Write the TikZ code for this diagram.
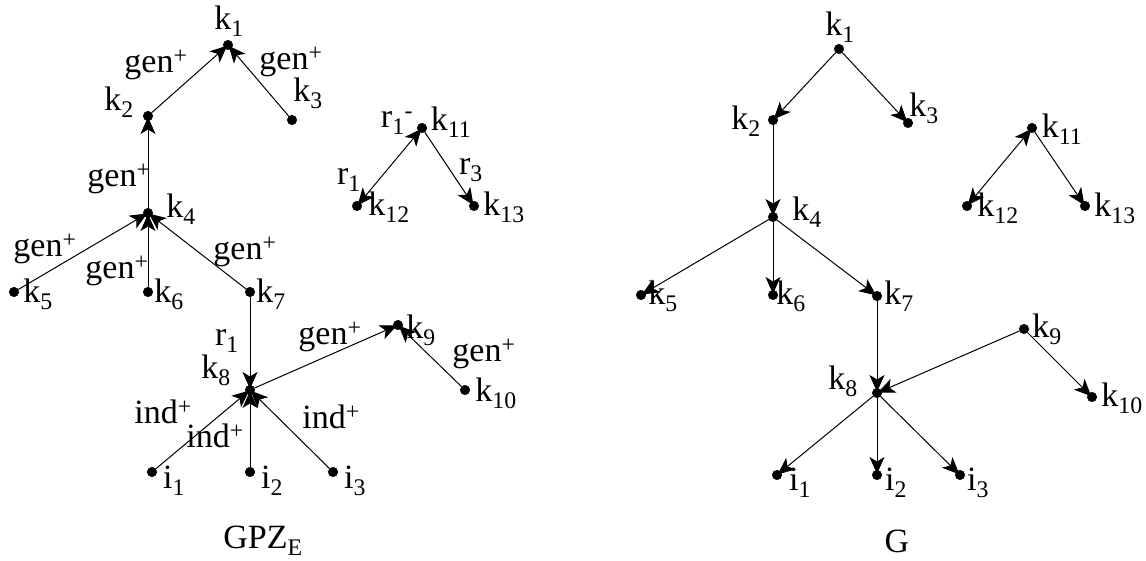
\documentclass[tikz,border=0pt]{standalone}
\usepackage{fontspec}
\setmainfont{Liberation Serif}
\usetikzlibrary{arrows.meta}
\newcommand\kk[1]{k\textsubscript{#1}}
\newcommand\ii[1]{i\textsubscript{#1}}
\newcommand\gp{gen\textsuperscript{+}}
\newcommand\ip{ind\textsuperscript{+}}
\begin{document}
\begin{tikzpicture}[x=1pt,y=-1pt,
  vdot/.style={circle,fill=black,draw=black,line width=0.5pt,inner sep=0pt,minimum size=9.5pt},
  lbl/.style={inner sep=0pt,font=\fontsize{34}{39}\selectfont},
  arr/.style={-{Stealth[length=17pt,width=15pt,inset=4.5pt]},line width=1pt,shorten >=-4pt},
  bi/.style={{Stealth[length=17pt,width=15pt,inset=4.5pt]}-{Stealth[length=17pt,width=15pt,inset=4.5pt]},line width=1pt,shorten >=-4pt,shorten <=-4pt}]
\useasboundingbox (0,0) rectangle (1146,561);
% ---------- left graph: dots ----------
\node[vdot] (L1) at (228,45) {};
\node[vdot] (L2) at (148,116) {};
\node[vdot] (L3) at (292,120) {};
\node[vdot] (L4) at (148,213) {};
\node[vdot] (L5) at (14,292) {};
\node[vdot] (L6) at (148,292) {};
\node[vdot] (L7) at (250,292) {};
\node[vdot] (L8) at (250,390) {};
\node[vdot] (L9) at (398,325) {};
\node[vdot] (L10) at (465,390) {};
\node[vdot] (Li1) at (152,472) {};
\node[vdot] (Li2) at (250,472) {};
\node[vdot] (Li3) at (333,472) {};
\node[vdot] (L11) at (422,128) {};
\node[vdot] (L12) at (357,206) {};
\node[vdot] (L13) at (474,206) {};
% ---------- left graph: labels ----------
\node[lbl] (tL1) at (229,21) {\kk{1}};
\node[lbl] (tL2) at (119,102) {\kk{2}};
\node[lbl] (tL3) at (308,93) {\kk{3}};
\node[lbl] (tL4) at (181,209) {\kk{4}};
\node[lbl] (tL5) at (38,294) {\kk{5}};
\node[lbl] (tL6) at (169,294) {\kk{6}};
\node[lbl] (tL7) at (271,294) {\kk{7}};
\node[lbl] (tL8) at (216,370) {\kk{8}};
\node[lbl] (tL9) at (421,330) {\kk{9}};
\node[lbl] (tL10) at (496,393) {\kk{10}};
\node[lbl] (tLi1) at (174,481) {\ii{1}};
\node[lbl] (tLi2) at (272,481) {\ii{2}};
\node[lbl] (tLi3) at (355,481) {\ii{3}};
\node[lbl] (tL11) at (451,122) {\kk{11}};
\node[lbl] (tL12) at (389,207) {\kk{12}};
\node[lbl] (tL13) at (504,207) {\kk{13}};
\node[lbl] (g12) at (156,65) {\gp};
\node[lbl] (g13) at (291,62) {\gp};
\node[lbl] (g24) at (119,179) {\gp};
\node[lbl] (g45) at (45,249) {\gp};
\node[lbl] (g46) at (117,271) {\gp};
\node[lbl] (g47) at (245,252) {\gp};
\node[lbl] (r78) at (227,341) {r\textsubscript{1}};
\node[lbl] (g89) at (330,337) {\gp};
\node[lbl] (g910) at (484,354) {\gp};
\node[lbl] (i81) at (163,412) {\ip};
\node[lbl] (i82) at (215,436) {\ip};
\node[lbl] (i83) at (331,417) {\ip};
\node[lbl] (r11m) at (397,123) {r\textsubscript{1}\textsuperscript{-}};
\node[lbl] (r1112) at (349,180) {r\textsubscript{1}};
\node[lbl] (r1113) at (471,170) {r\textsubscript{3}};
\node[lbl] (cap1) at (263,541) {GPZ\textsubscript{E}};
% ---------- left graph: edges ----------
\draw[arr] (L2) -- (L1);
\draw[arr] (L3) -- (L1);
\draw[arr] (L4) -- (L2);
\draw[arr] (L5) -- (L4);
\draw[arr] (L6) -- (L4);
\draw[arr] (L7) -- (L4);
\draw[arr] (L7) -- (L8);
\draw[arr] (Li1) -- (L8);
\draw[arr] (Li2) -- (L8);
\draw[arr] (Li3) -- (L8);
\draw[arr] (L8) -- (L9);
\draw[arr] (L10) -- (L9);
\draw[bi] (L12) -- (L11);
\draw[arr] (L11) -- (L13);
% ---------- right graph: dots ----------
\node[vdot] (R1) at (839,49) {};
\node[vdot] (R2) at (773,120) {};
\node[vdot] (R3) at (908,123) {};
\node[vdot] (R4) at (773,217) {};
\node[vdot] (R5) at (641,295) {};
\node[vdot] (R6) at (773,295) {};
\node[vdot] (R7) at (877,296) {};
\node[vdot] (R8) at (877,393) {};
\node[vdot] (R9) at (1024,329) {};
\node[vdot] (R10) at (1092,397) {};
\node[vdot] (Ri1) at (777,475) {};
\node[vdot] (Ri2) at (877,475) {};
\node[vdot] (Ri3) at (960,475) {};
\node[vdot] (R11) at (1032,128) {};
\node[vdot] (R12) at (967,206) {};
\node[vdot] (R13) at (1085,206) {};
% ---------- right graph: labels ----------
\node[lbl] (tR1) at (840,27) {\kk{1}};
\node[lbl] (tR2) at (746,121) {\kk{2}};
\node[lbl] (tR3) at (924,108) {\kk{3}};
\node[lbl] (tR4) at (807,212) {\kk{4}};
\node[lbl] (tR5) at (663,296) {\kk{5}};
\node[lbl] (tR6) at (791,296) {\kk{6}};
\node[lbl] (tR7) at (899,296) {\kk{7}};
\node[lbl] (tR8) at (843,381) {\kk{8}};
\node[lbl] (tR9) at (1047,329) {\kk{9}};
\node[lbl] (tR10) at (1122,398) {\kk{10}};
\node[lbl] (tRi1) at (800,483) {\ii{1}};
\node[lbl] (tRi2) at (896,483) {\ii{2}};
\node[lbl] (tRi3) at (978,483) {\ii{3}};
\node[lbl] (tR11) at (1062,129) {\kk{11}};
\node[lbl] (tR12) at (998,208) {\kk{12}};
\node[lbl] (tR13) at (1115,208) {\kk{13}};
\node[lbl] (cap2) at (897,541) {G};
% ---------- right graph: edges ----------
\draw[arr] (R1) -- (R2);
\draw[arr] (R1) -- (R3);
\draw[arr] (R2) -- (R4);
\draw[arr] (R4) -- (R5);
\draw[arr] (R4) -- (R6);
\draw[arr] (R4) -- (R7);
\draw[arr] (R7) -- (R8);
\draw[arr] (R9) -- (R8);
\draw[arr] (R9) -- (R10);
\draw[arr] (R8) -- (Ri1);
\draw[arr] (R8) -- (Ri2);
\draw[arr] (R8) -- (Ri3);
\draw[bi] (R12) -- (R11);
\draw[arr] (R11) -- (R13);
\end{tikzpicture}
\end{document}
